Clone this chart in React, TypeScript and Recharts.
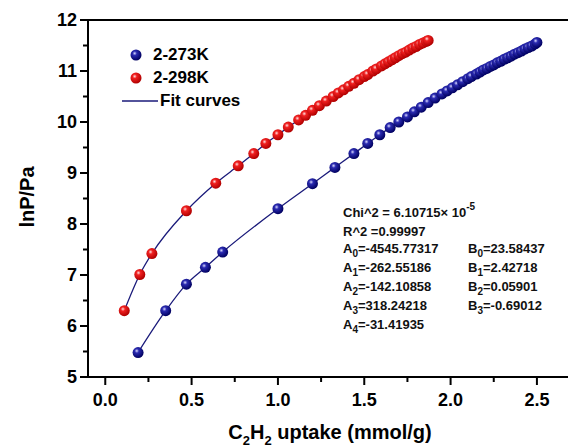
import { ComposedChart, Line, XAxis, YAxis, ReferenceLine } from 'recharts';

// 2-273K (blue) isotherm
const blueUptake = [0.19, 0.35, 0.47, 0.58, 0.68, 1.0, 1.2, 1.33, 1.44, 1.52, 1.59, 1.65, 1.7, 1.75, 1.79, 1.83, 1.87, 1.91, 1.95, 1.98, 2.01, 2.04, 2.07, 2.1, 2.12, 2.15, 2.17, 2.19, 2.21, 2.23, 2.25, 2.27, 2.29, 2.31, 2.33, 2.35, 2.37, 2.39, 2.41, 2.43, 2.45, 2.47, 2.49, 2.5];
const blueLnP = [5.48, 6.3, 6.82, 7.15, 7.45, 8.3, 8.79, 9.11, 9.38, 9.58, 9.75, 9.89, 10.0, 10.1, 10.2, 10.29, 10.38, 10.47, 10.55, 10.61, 10.67, 10.73, 10.79, 10.85, 10.89, 10.94, 10.98, 11.02, 11.05, 11.09, 11.12, 11.16, 11.19, 11.23, 11.26, 11.29, 11.33, 11.36, 11.39, 11.43, 11.46, 11.49, 11.53, 11.56];

// 2-298K (red) isotherm
const redUptake = [0.11, 0.2, 0.27, 0.47, 0.64, 0.77, 0.86, 0.93, 1.0, 1.06, 1.12, 1.16, 1.2, 1.24, 1.28, 1.32, 1.35, 1.38, 1.41, 1.44, 1.47, 1.5, 1.52, 1.55, 1.57, 1.6, 1.62, 1.64, 1.66, 1.68, 1.7, 1.72, 1.74, 1.76, 1.78, 1.8, 1.82, 1.84, 1.86, 1.87];
const redLnP = [6.3, 7.01, 7.42, 8.26, 8.8, 9.14, 9.38, 9.58, 9.75, 9.9, 10.04, 10.13, 10.23, 10.32, 10.41, 10.5, 10.57, 10.63, 10.7, 10.76, 10.83, 10.89, 10.93, 11.0, 11.04, 11.1, 11.14, 11.18, 11.22, 11.26, 11.3, 11.34, 11.37, 11.41, 11.45, 11.48, 11.52, 11.55, 11.58, 11.6];

const xTicks = [0, 0.25, 0.5, 0.75, 1, 1.25, 1.5, 1.75, 2, 2.25, 2.5];
const yTicks = [5, 5.5, 6, 6.5, 7, 7.5, 8, 8.5, 9, 9.5, 10, 10.5, 11, 11.5, 12];

const seriesNames = ['2-273K', '2-298K', 'Fit curves'];

const fitA = ['-4545.77317', '-262.55186', '-142.10858', '318.24218', '-31.41935'];
const fitB = ['23.58437', '2.42718', '0.05901', '-0.69012'];

const blueData = blueUptake.map((x, i) => ({ x, y: blueLnP[i] }));
const redData = redUptake.map((x, i) => ({ x, y: redLnP[i] }));

const FONT = 'Arial, "Liberation Sans", sans-serif';
const FIT_COLOR = '#1a1a7a';

function YTick({ x, y, payload }: any) {
  const major = Number.isInteger(payload.value);
  return (
    <g>
      <line x1={x - (major ? 8 : 5)} x2={x} y1={y} y2={y} stroke="#000" strokeWidth={2} />
      {major && (
        <text x={x - 11} y={y} textAnchor="end" dominantBaseline="central"
          style={{ fontFamily: FONT, fontWeight: 700, fontSize: 18, fill: '#000' }}>
          {payload.value}
        </text>
      )}
    </g>
  );
}

function XTick({ x, y, payload }: any) {
  const major = Number.isInteger(payload.value * 2);
  return (
    <g>
      <line x1={x} x2={x} y1={y} y2={y + (major ? 8 : 5)} stroke="#000" strokeWidth={2} />
      {major && (
        <text x={x} y={y + 23} textAnchor="middle" dominantBaseline="central"
          style={{ fontFamily: FONT, fontWeight: 700, fontSize: 18, fill: '#000' }}>
          {payload.value.toFixed(1)}
        </text>
      )}
    </g>
  );
}

const sphere = (grad: string) => (p: any) => (
  <circle key={`${grad}-${p.index}`} cx={p.cx} cy={p.cy} r={5.5} fill={`url(#${grad})`} />
);

function FitLegend() {
  const row = { display: 'flex', alignItems: 'center', height: 23 } as const;
  return (
    <div style={{ fontFamily: FONT, fontWeight: 700, fontSize: 17, color: '#000', lineHeight: 1 }}>
      <div style={row}>
        <svg width={31} height={14}><circle cx={14} cy={7} r={5.5} fill="url(#gBlue)" /></svg>
        <span>{seriesNames[0]}</span>
      </div>
      <div style={row}>
        <svg width={31} height={14}><circle cx={14} cy={7} r={5.5} fill="url(#gRed)" /></svg>
        <span>{seriesNames[1]}</span>
      </div>
      <div style={row}>
        <svg width={38} height={6}><line x1={0} x2={36} y1={3} y2={3} stroke={FIT_COLOR} strokeWidth={1.5} /></svg>
        <span>{seriesNames[2]}</span>
      </div>
    </div>
  );
}

function Sub({ children }: { children: any }) {
  return <span style={{ fontSize: 10, position: 'relative', top: 4 }}>{children}</span>;
}

export default function App() {
  const rowTops = [241, 260, 279, 298, 317];
  return (
    <div style={{ position: 'absolute', left: 0, top: 0, width: 568, height: 448, background: '#fff', overflow: 'hidden' }}>
      <svg width={0} height={0} style={{ position: 'absolute' }}>
        <defs>
          <radialGradient id="gBlue" cx="38%" cy="35%" r="65%">
            <stop offset="0%" stopColor="#d8d8ff" />
            <stop offset="30%" stopColor="#2a2ab0" />
            <stop offset="100%" stopColor="#000060" />
          </radialGradient>
          <radialGradient id="gRed" cx="38%" cy="35%" r="65%">
            <stop offset="0%" stopColor="#ffe0e0" />
            <stop offset="30%" stopColor="#f02020" />
            <stop offset="100%" stopColor="#b00000" />
          </radialGradient>
        </defs>
      </svg>
      <ComposedChart width={568} height={448} margin={{ top: 20, right: 0, bottom: 0, left: 0 }}>
        <XAxis
          type="number"
          dataKey="x"
          domain={[-0.1, 2.68]}
          ticks={xTicks}
          interval={0}
          allowDataOverflow
          height={71}
          tickSize={0}
          tickMargin={0}
          tickLine={false}
          axisLine={{ stroke: '#000', strokeWidth: 2 }}
          tick={<XTick />}
        />
        <YAxis
          type="number"
          dataKey="y"
          domain={[5, 12]}
          ticks={yTicks}
          interval={0}
          allowDataOverflow
          width={88}
          tickSize={0}
          tickMargin={0}
          tickLine={false}
          axisLine={{ stroke: '#000', strokeWidth: 2 }}
          tick={<YTick />}
        />
        <ReferenceLine y={12} stroke="#000" strokeWidth={2} />
        <Line data={blueData} dataKey="y" name={seriesNames[0]} type="monotone" stroke={FIT_COLOR} strokeWidth={1.3}
          dot={sphere('gBlue')} activeDot={false} isAnimationActive={false} />
        <Line data={redData} dataKey="y" name={seriesNames[1]} type="monotone" stroke={FIT_COLOR} strokeWidth={1.3}
          dot={sphere('gRed')} activeDot={false} isAnimationActive={false} />
      </ComposedChart>

      <div style={{ position: 'absolute', left: 122, top: 43 }}>
        <FitLegend />
      </div>

      <div style={{ position: 'absolute', left: 27, top: 197, transform: 'translate(-50%, -50%) rotate(-90deg)', fontFamily: FONT, fontWeight: 700, fontSize: 20, whiteSpace: 'nowrap' }}>
        lnP/Pa
      </div>
      <div style={{ position: 'absolute', left: 330, top: 421, transform: 'translateX(-50%)', fontFamily: FONT, fontWeight: 700, fontSize: 20, whiteSpace: 'nowrap' }}>
        C<span style={{ fontSize: 13, position: 'relative', top: 6 }}>2</span>H<span style={{ fontSize: 13, position: 'relative', top: 6 }}>2</span> uptake (mmol/g)
      </div>

      <div style={{ position: 'absolute', left: 0, top: 0, fontFamily: FONT, fontWeight: 700, fontSize: 13, color: '#111', whiteSpace: 'nowrap' }}>
        <div style={{ position: 'absolute', left: 343, top: 205 }}>
          Chi^2 = 6.10715× 10<span style={{ fontSize: 10, position: 'relative', top: -7 }}>-5</span>
        </div>
        <div style={{ position: 'absolute', left: 343, top: 224 }}>R^2 =0.99997</div>
        {fitA.map((v, i) => (
          <div key={`a${i}`} style={{ position: 'absolute', left: 343, top: rowTops[i] }}>
            A<Sub>{i}</Sub>={v}
          </div>
        ))}
        {fitB.map((v, i) => (
          <div key={`b${i}`} style={{ position: 'absolute', left: 468, top: rowTops[i] }}>
            B<Sub>{i}</Sub>={v}
          </div>
        ))}
      </div>
    </div>
  );
}
